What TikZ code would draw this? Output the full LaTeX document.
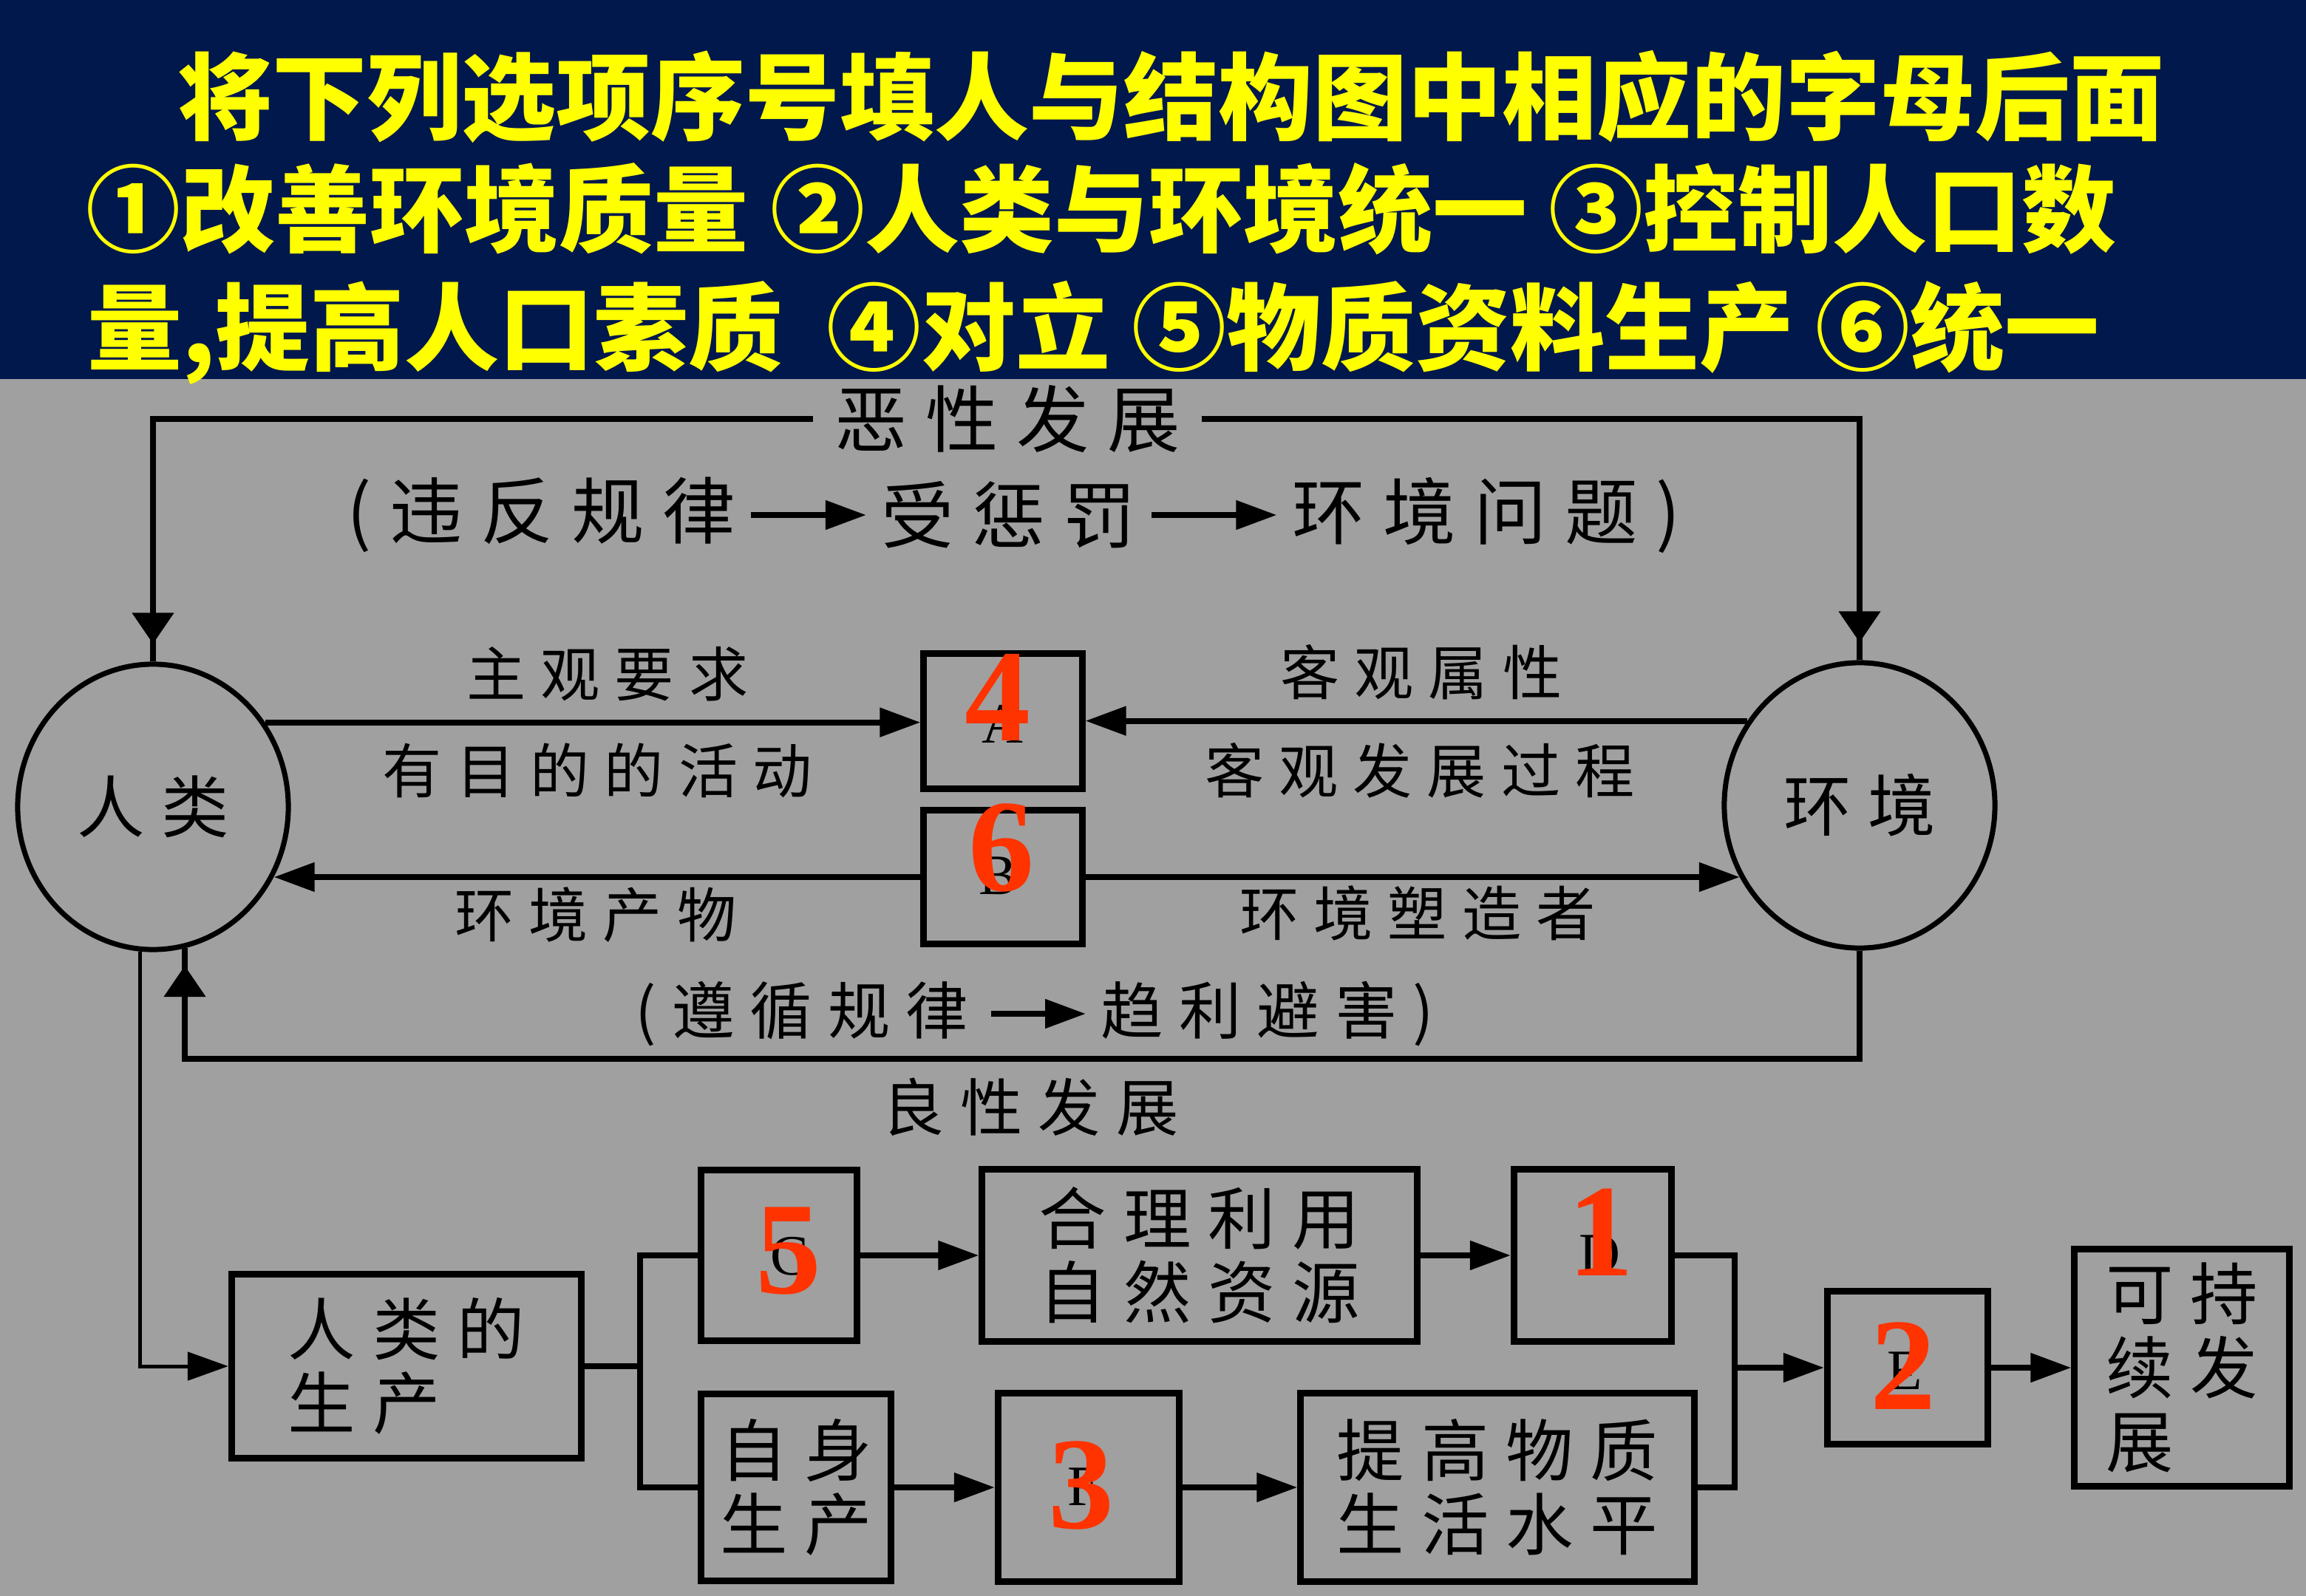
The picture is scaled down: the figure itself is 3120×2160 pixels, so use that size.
\documentclass[tikz,border=0pt]{standalone}
\usepackage{fontspec}
\setmainfont{Noto Sans CJK SC}
\newfontfamily\lbl[LetterSpace=25]{Noto Sans CJK SC}
\newfontfamily\numfont{Liberation Serif}
\usetikzlibrary{arrows.meta,decorations.markings,shapes.geometric}
\definecolor{bgray}{RGB}{160,160,160}
\definecolor{navy}{RGB}{0,24,76}
\definecolor{hyellow}{RGB}{255,255,0}
\definecolor{ansred}{RGB}{255,51,0}
\tikzset{
  ln/.style={line width=0.08cm, black},
  arr/.style={ln, -{Triangle[length=0.55cm,width=0.38cm]}},
  stubarr/.style={ln, postaction={decorate},
    decoration={markings, mark=at position -0.24cm with {\arrow{Triangle[length=0.42cm,width=0.55cm]}}}},
  hdrtext/.style={anchor=base west, inner sep=0, text=hyellow, font=\fontsize{36.4pt}{40pt}\selectfont\bfseries},
  toplbl/.style={inner sep=0, font=\fontsize{28pt}{30pt}\lbl},
  midlbl/.style={inner sep=0, font=\fontsize{22.8pt}{25pt}\lbl},
  botlbl/.style={inner sep=0, font=\fontsize{24pt}{26pt}\lbl},
  circ/.style={draw, ellipse, line width=0.07cm, inner sep=0, minimum width=3.66cm, minimum height=3.86cm, font=\fontsize{26pt}{28pt}\lbl},
  box/.style={draw, line width=0.09cm, inner sep=0, align=left, font=\fontsize{26pt}{28.5pt}\lbl},
  ansnum/.style={inner sep=0, text=ansred, font=\fontsize{50.6pt}{52pt}\numfont\bfseries},
  boxletter/.style={inner sep=0, font=\fontsize{22pt}{24pt}\numfont}
}
\begin{document}
\begin{tikzpicture}[x=0.01cm,y=-0.01cm]
\useasboundingbox (0,0) rectangle (3120,2160);
\fill[bgray] (0,0) rectangle (3120,2160);
\fill[navy] (0,0) rectangle (3120,513);

% header
\node[hdrtext] (h1) at (240,179) {将下列选项序号填人与结构图中相应的字母后面};
\node[hdrtext] (h2) at (116,331) {①改善环境质量 ②人类与环境统一 ③控制人口数};
\node[hdrtext] (h3) at (118,491) {量,提高人口素质~~④对立 ⑤物质资料生产 ⑥统一};

% circles
\node[circ] (renlei) at (207,1092) {人类};
\node[circ] (huanjing) at (2516,1090) {环境};

% top loop
\node[toplbl, inner xsep=0.28cm] (tbad) at (1363,567) {恶性发展};
\draw[stubarr] (tbad.west) -| (renlei.north);
\draw[stubarr] (tbad.east) -| (huanjing.north);
\node[toplbl, inner xsep=0.2cm] (t2a) at (732,697) {(违反规律};
\node[toplbl, inner xsep=0.2cm] (t2b) at (1365,697) {受惩罚};
\node[toplbl, inner xsep=0.2cm] (t2c) at (2011,697) {环境问题)};
\draw[arr] (t2a) -- (t2b);
\draw[arr] (t2b) -- (t2c);

% middle boxes
\node[box, minimum width=2.14cm, minimum height=1.83cm] (A) at (1357,976) {};
\node[box, minimum width=2.14cm, minimum height=1.81cm] (B) at (1357,1187) {};
\draw[arr] (renlei.37.1) -- (renlei.37.1 -| A.west);
\draw[arr] (huanjing.143.6) -- (huanjing.143.6 -| A.east);
\draw[arr] (B.west) -- (B.west -| renlei.-30.1);
\draw[arr] (B.east) -- (B.east -| huanjing.-149.2);
\node[midlbl] (l1) at (822,912) {主观要求};
\node[midlbl] (l2) at (808,1043) {有目的的活动};
\node[midlbl] (l3) at (1923,910) {客观属性};
\node[midlbl] (l4) at (1921,1043) {客观发展过程};
\node[midlbl] (l5) at (806,1238) {环境产物};
\node[midlbl] (l6) at (1918,1236) {环境塑造者};

% bottom loop
\coordinate (loopBL) at (250,1433);
\draw[stubarr] (huanjing.south) |- (loopBL) -- (loopBL |- renlei.-77.4);
\node[botlbl, inner xsep=0.3cm] (b1) at (1085,1372) {(遵循规律};
\node[botlbl, inner xsep=0.2cm] (b2) at (1715,1372) {趋利避害)};
\draw[arr] (b1) -- (b2);
\node[botlbl] (good) at (1394,1498) {良性发展};

% lower flow
\node[box, minimum width=4.73cm, minimum height=2.48cm] (prod) at (550,1849) {人类的\\生产};
\draw[arr, line width=0.05cm] (renlei.-95.8) |- (prod.west);
\node[box, minimum width=2.11cm, minimum height=2.31cm] (C) at (1054,1699) {};
\node[box, minimum width=5.88cm, minimum height=2.33cm] (heli) at (1623,1699) {合理利用\\自然资源};
\node[box, minimum width=2.13cm, minimum height=2.33cm] (D) at (2155,1699) {};
\node[box, minimum width=2.57cm, minimum height=2.53cm] (zishen) at (1077,2013) {自身\\生产};
\node[box, minimum width=2.45cm, minimum height=2.54cm] (Fb) at (1473,2013) {};
\node[box, minimum width=5.32cm, minimum height=2.54cm] (tigao) at (2026,2013) {提高物质\\生活水平};
\node[box, minimum width=2.17cm, minimum height=2.06cm] (Eb) at (2581,1851) {};
\node[box, minimum width=2.90cm, minimum height=3.20cm] (kcx) at (2952,1851) {可持\\续发\\展};

\coordinate (jL) at (866,0);
\coordinate (jR) at (2347,0);
\draw[ln] (prod.east) -- (prod.east -| jL);
\draw[ln] (C.west) -| (zishen.west -| jL) -- (zishen.west);
\draw[arr] (C.east) -- (heli.west);
\draw[arr] (heli.east) -- (D.west);
\draw[arr] (zishen.east) -- (Fb.west);
\draw[arr] (Fb.east) -- (tigao.west);
\draw[ln] (D.east) -| (tigao.east -| jR) -- (tigao.east);
\draw[arr] (Eb.west -| jR) -- (Eb.west);
\draw[arr] (Eb.east) -- (kcx.west);

% letters behind answers (mostly hidden by the red numbers)
\node[boxletter] (la) at (1356,980) {A};
\node[boxletter] (lb) at (1350,1185) {B};
\node[boxletter] (lc) at (1068,1700) {C};
\node[boxletter] (ld) at (2164,1697) {D};
\node[boxletter] (le) at (2577,1855) {E};
\node[boxletter] (lf) at (1466,2012) {F};

% answers
\node[ansnum] (n4) at (1350,944) {4};
\node[ansnum] (n6) at (1355,1147) {6};
\node[ansnum] (n5) at (1067,1693) {5};
\node[ansnum] (n1) at (2166,1668) {1};
\node[ansnum] (n3) at (1463,2010) {3};
\node[ansnum] (n2) at (2575,1849) {2};
\end{tikzpicture}
\end{document}
